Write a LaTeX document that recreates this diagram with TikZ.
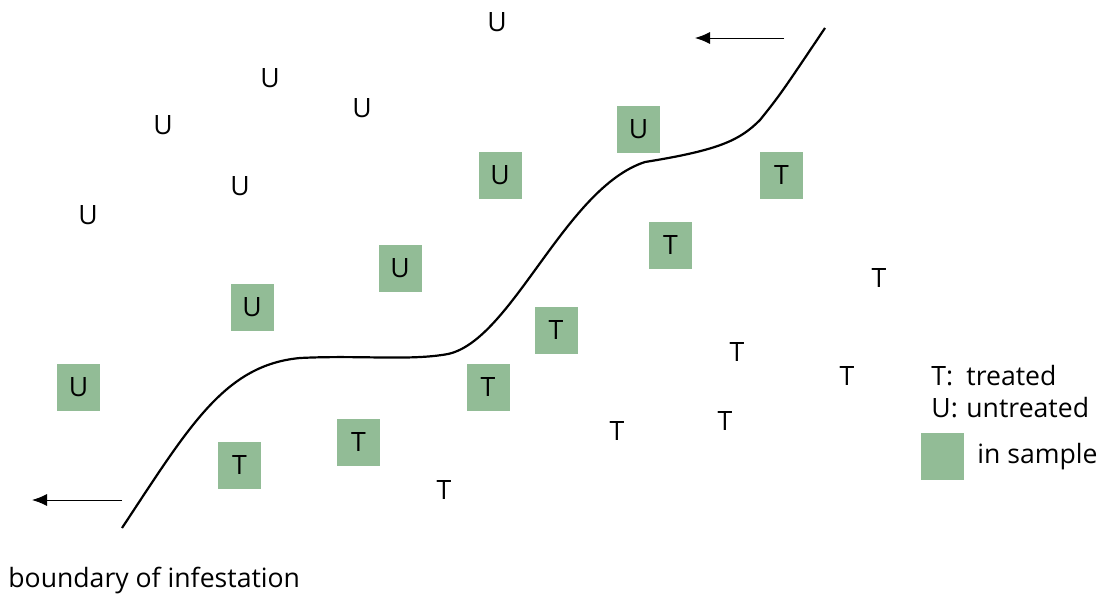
\documentclass[tikz,border=0pt]{standalone}
\usepackage{fontspec}
\setmainfont{Open Sans}
\usepackage{tikz}
\usetikzlibrary{arrows.meta}
\definecolor{samplegreen}{RGB}{146,188,150}
\tikzset{
  sample/.style={fill=samplegreen, minimum width=21.5pt, minimum height=23.5pt, inner sep=0pt},
  plain/.style={inner sep=0pt},
  border/.style={line width=1.1pt},
  drift/.style={line width=0.5pt, -{Latex[length=7.5pt,width=6pt]}}
}

\begin{document}
\begin{tikzpicture}[x=0.5pt, y=-0.5pt, font=\fontsize{13.3}{15}\selectfont]
		\useasboundingbox (0,0) rectangle (1099,594);
		% untreated, in sample
		\node[sample] (su1) at (78.5, 387.5) {U};
		\node[sample] (su2) at (252, 307) {U};
		\node[sample] (su3) at (400, 268) {U};
		\node[sample] (su4) at (500, 175) {U};
		\node[sample] (su5) at (638.5, 129.5) {U};
		% treated, in sample
		\node[sample] (st1) at (239.5, 465.5) {T};
		\node[sample] (st2) at (358.5, 442.5) {T};
		\node[sample] (st3) at (488, 387) {T};
		\node[sample] (st4) at (556, 330) {T};
		\node[sample] (st5) at (670.5, 245) {T};
		\node[sample] (st6) at (781.5, 175.5) {T};
		% untreated, not in sample
		\node[plain] (u1) at (497, 22) {U};
		\node[plain] (u2) at (270, 78) {U};
		\node[plain] (u3) at (362, 108) {U};
		\node[plain] (u4) at (163, 125) {U};
		\node[plain] (u5) at (240, 186) {U};
		\node[plain] (u6) at (88, 215) {U};
		% treated, not in sample
		\node[plain] (t1) at (879, 278) {T};
		\node[plain] (t2) at (737, 352) {T};
		\node[plain] (t3) at (847, 376) {T};
		\node[plain] (t4) at (725, 421) {T};
		\node[plain] (t5) at (617, 431) {T};
		\node[plain] (t6) at (444, 490) {T};
		% boundary
		\draw[border] (122,528) .. controls (190,425) and (225,365) .. (300,358)
			.. controls (360,355) and (410,361) .. (448,354)
			.. controls (512,340) and (565,188) .. (645,162)
			.. controls (720,150) and (740,140) .. (760,120)
			.. controls (780,95) .. (825,28);
		\coordinate (a1s) at (784,38);
		\coordinate (a1e) at (695,38);
		\coordinate (a2s) at (122,500);
		\coordinate (a2e) at (32,500);
		\draw[drift] (a1s) -- (a1e);
		\draw[drift] (a2s) -- (a2e);
		\node[plain, anchor=base west] (bnd) at (8,587) {boundary of infestation};
		% legend
		\node[plain, anchor=west] (lt) at (931,376) {\makebox[17.5pt][l]{T:}treated};
		\node[plain, anchor=west] (lu) at (931,408) {\makebox[17.5pt][l]{U:}untreated};
		\node[sample] (lbox) at (942.5,456.5) {};
		\node[plain, anchor=west] (ls) at (977,456.5) {in sample};
	\end{tikzpicture}
\end{document}
